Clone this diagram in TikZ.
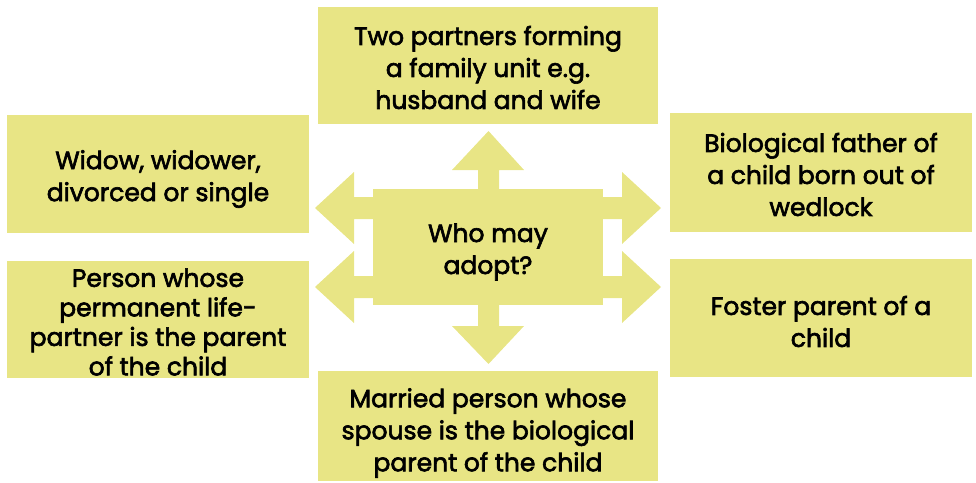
\documentclass[tikz,border=0pt]{standalone}
\usepackage{fontspec}
\setmainfont{Poppins}[FakeBold=2.5]
\usepackage{tikz}
\definecolor{adoptyellow}{RGB}{232,229,133}

\begin{document}
\begin{tikzpicture}[x=1pt,y=-1pt]
	\tikzstyle{box}=[rectangle,fill=adoptyellow,inner sep=0pt]
	\tikzstyle{txt}=[align=center,inner sep=0pt,font=\fontsize{25}{32}\selectfont]
	\useasboundingbox (0,0) rectangle (976,482);
	% arrows behind the centre
		\fill[adoptyellow] (478,305) -- (478,170) -- (452,170) -- (488.5,131) -- (524,170) -- (499,170) -- (499,326) -- (524,326) -- (488.5,364) -- (452,326) -- (478,326) -- cycle;
		\fill[adoptyellow] (354,197) -- (354,172) -- (315,208) -- (354,244) -- (354,219) -- (622,219) -- (622,244) -- (661,208) -- (622,172) -- (622,197) -- cycle;
		\fill[adoptyellow] (354,276) -- (354,251) -- (315,287) -- (354,323) -- (354,298) -- (622,298) -- (622,323) -- (661,287) -- (622,251) -- (622,276) -- cycle;
	\node[box, minimum width=230, minimum height=116] (who) at (488,247) {};
		\node[txt] at ([yshift=-5pt]who.center) {Who may\\adopt?};
	% the six kinds of adopter
	\node[box, minimum width=340, minimum height=117] (partners) at (488,65.5) {};
		\node[txt] at ([yshift=-2pt]partners.center) {Two partners forming\\a family unit e.g.\\husband and wife};
	\node[box, minimum width=340, minimum height=110] (married) at (488,426) {};
		\node[txt] at ([yshift=-7pt]married.center) {Married person whose\\spouse is the biological\\parent of the child};
	\node[box, minimum width=302, minimum height=118] (widow) at (158,174) {};
		\node[txt] at ([yshift=-5pt]widow.center) {Widow, widower,\\divorced or single};
	\node[box, minimum width=302, minimum height=117] (lifepartner) at (158,319.5) {};
		\node[txt, font=\fontsize{25}{29.5}\selectfont] at ([yshift=-2.5pt]lifepartner.center) {Person whose\\permanent life-\\partner is the parent\\of the child};
	\node[box, minimum width=302, minimum height=119] (father) at (821,172.5) {};
		\node[txt] at ([yshift=-2pt]father.center) {Biological father of\\a child born out of\\wedlock};
	\node[box, minimum width=302, minimum height=118] (foster) at (821,318) {};
		\node[txt] at ([yshift=-3.5pt]foster.center) {Foster parent of a\\child};
\end{tikzpicture}
\end{document}
